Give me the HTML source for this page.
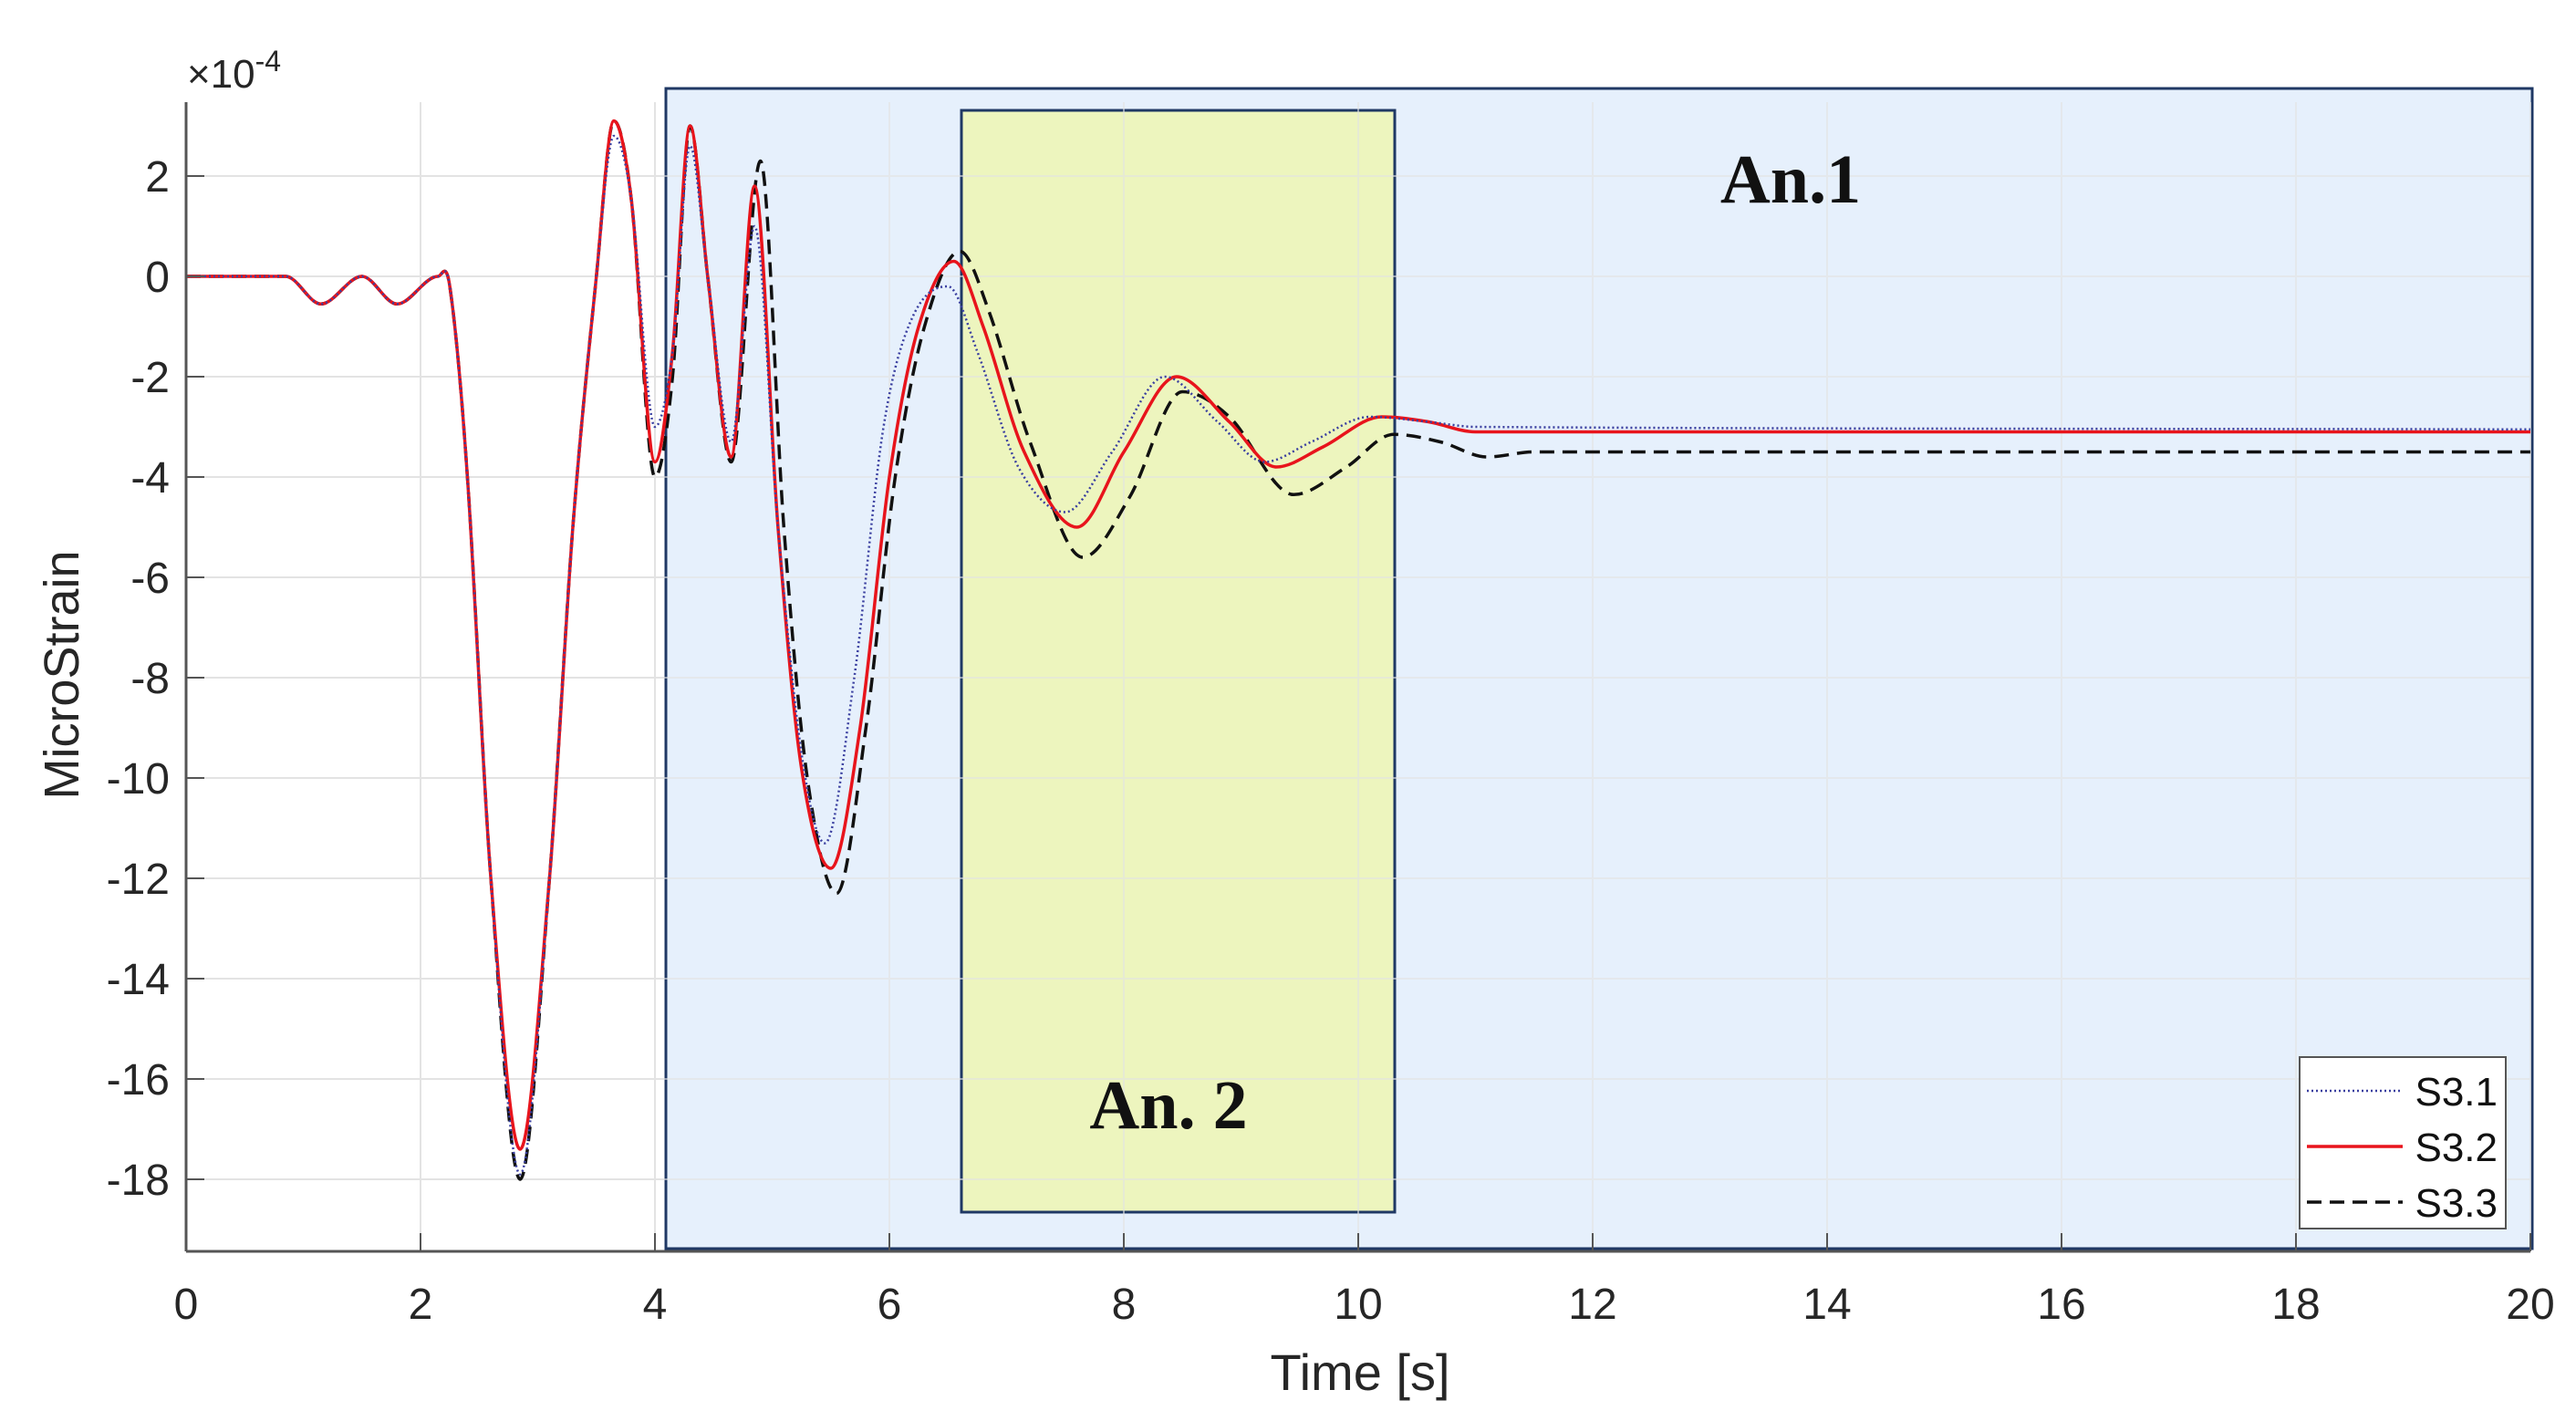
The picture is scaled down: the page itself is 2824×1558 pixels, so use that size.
<!DOCTYPE html>
<html><head><meta charset="utf-8"><style>
html,body{margin:0;padding:0;background:#fff;}
svg{display:block;}
</style></head><body>
<svg id="chart" width="2824" height="1558" viewBox="0 0 2824 1558" xmlns="http://www.w3.org/2000/svg">
<rect width="2824" height="1558" fill="#fff"/>
<g id="grid1"></g>
<rect id="an1box" fill="#e6f0fc" stroke="#1f3864" stroke-width="3"/>
<rect id="an2box" fill="#edf5be" stroke="#1f3864" stroke-width="3"/>
<g id="grid2" opacity="0.6"></g>
<g id="series"></g>
<g id="axes"></g>
<text x="1963" y="222" font-family="Liberation Serif, serif" font-weight="bold" font-size="76" text-anchor="middle" fill="#111">An.1</text>
<text x="1281" y="1237" font-family="Liberation Serif, serif" font-weight="bold" font-size="76" text-anchor="middle" fill="#111">An. 2</text>
<g id="legend"></g>
</svg>
<script>
const xTicks=[0,2,4,6,8,10,12,14,16,18,20];
const yTicks=[2,0,-2,-4,-6,-8,-10,-12,-14,-16,-18];
const seriesNames=["S3.1","S3.2","S3.3"];
const t1=[0,0.85,1.15,1.5,1.8,2.15,2.25,2.4,2.6,2.85,3.1,3.3,3.5,3.65,3.8,4.0,4.15,4.3,4.45,4.65,4.85,5.05,5.25,5.45,5.7,5.95,6.2,6.5,6.75,7.1,7.5,7.9,8.35,8.8,9.2,9.6,10.1,10.6,11,20];
const v1=[0,0,-0.55,0,-0.55,0,-0.2,-4,-12,-17.9,-12,-5,0,2.8,1.5,-3.0,-1.5,2.6,0,-3.3,1.0,-5,-9.5,-11.3,-8,-3,-0.8,-0.2,-1.5,-3.8,-4.7,-3.5,-2.0,-2.9,-3.7,-3.3,-2.8,-2.9,-3.0,-3.05];
const t2=[0,0.85,1.15,1.5,1.8,2.15,2.25,2.4,2.6,2.85,3.1,3.3,3.5,3.65,3.8,4.0,4.15,4.3,4.45,4.65,4.85,5.05,5.25,5.5,5.75,6.0,6.25,6.55,6.8,7.15,7.6,8.0,8.45,8.9,9.3,9.7,10.2,10.6,11,20];
const v2=[0,0,-0.55,0,-0.55,0,-0.2,-4,-12,-17.4,-12,-5,0,3.1,1.5,-3.7,-1.5,3.0,0,-3.6,1.8,-5,-9.8,-11.8,-9,-4,-1,0.3,-1.0,-3.5,-5.0,-3.5,-2.0,-2.9,-3.8,-3.4,-2.8,-2.9,-3.1,-3.1];
const t3=[0,0.85,1.15,1.5,1.8,2.15,2.25,2.4,2.6,2.85,3.1,3.3,3.5,3.65,3.8,4.0,4.15,4.3,4.45,4.65,4.9,5.1,5.3,5.55,5.8,6.05,6.3,6.6,6.85,7.2,7.65,8.05,8.5,8.9,9.45,9.9,10.3,10.7,11.1,11.5,20];
const v3=[0,0,-0.55,0,-0.55,0,-0.2,-4,-12,-18,-12,-5,0,3.1,1.5,-4.0,-2,3.0,0,-3.7,2.3,-5,-10,-12.3,-9,-4,-1,0.5,-0.7,-3.3,-5.6,-4.4,-2.3,-2.8,-4.35,-3.8,-3.15,-3.3,-3.6,-3.5,-3.5];
const X0=204,XS=128.5,Y0=303,YS=55;
const xs=v=>X0+v*XS, ys=v=>Y0-v*YS;
const NS="http://www.w3.org/2000/svg";
function mk(tag,attrs,parent){const e=document.createElementNS(NS,tag);for(const k in attrs)e.setAttribute(k,attrs[k]);parent.appendChild(e);return e;}
const plotTop=112,plotBot=1372,plotLeft=xs(0),plotRight=xs(20);
['grid1','grid2'].forEach(id=>{const g=document.getElementById(id);
 xTicks.forEach(v=>{if(v>0){const l=mk('line',{x1:xs(v),x2:xs(v),y1:plotTop,y2:plotBot,stroke:'#e3e3e3','stroke-width':2},g);
 
 }});
 yTicks.forEach(v=>{const l=mk('line',{x1:plotLeft,x2:plotRight,y1:ys(v),y2:ys(v),stroke:'#e3e3e3','stroke-width':2},g);
 
 });});
const b1=document.getElementById('an1box');b1.setAttribute('x',730);b1.setAttribute('y',97);b1.setAttribute('width',2046);b1.setAttribute('height',1272);
const b2=document.getElementById('an2box');b2.setAttribute('x',1054);b2.setAttribute('y',121);b2.setAttribute('width',475);b2.setAttribute('height',1208);
function smooth(T,V){const P=T.map((t,i)=>[xs(t),ys(V[i])]);const n=P.length;
 const m=P.map((p,i)=>{
  if(i===0)return (P[1][1]-p[1])/(P[1][0]-p[0]);
  if(i===n-1)return (p[1]-P[n-2][1])/(p[0]-P[n-2][0]);
  const a=P[i-1],b=P[i+1];
  if((p[1]-a[1])*(b[1]-p[1])<=0)return 0;
  return (b[1]-a[1])/(b[0]-a[0]);});
 let d='M'+P[0][0].toFixed(1)+','+P[0][1].toFixed(1);
 for(let i=0;i<n-1;i++){const p1=P[i],p2=P[i+1],dx=(p2[0]-p1[0])/3;
  d+=' C'+(p1[0]+dx).toFixed(1)+','+(p1[1]+m[i]*dx).toFixed(1)+' '+(p2[0]-dx).toFixed(1)+','+(p2[1]-m[i+1]*dx).toFixed(1)+' '+p2[0].toFixed(1)+','+p2[1].toFixed(1);}
 return d;}
const sg=document.getElementById('series');
const styles=[{stroke:'#3a3fa0','stroke-width':2.5,'stroke-dasharray':'2,3'},{stroke:'#e8141c','stroke-width':3.5},{stroke:'#111','stroke-width':3.5,'stroke-dasharray':'16,9'}];
const data=[[t1,v1],[t2,v2],[t3,v3]];
[2,1,0].forEach(i=>{const p=mk('path',Object.assign({d:smooth(data[i][0],data[i][1]),fill:'none'},styles[i]),sg);
 
 });
const ax=document.getElementById('axes');
const yAxisLine=mk('line',{x1:plotLeft,x2:plotLeft,y1:plotTop,y2:plotBot,stroke:'#555','stroke-width':3},ax);


const xAxisLine=mk('line',{x1:plotLeft,x2:plotRight,y1:plotBot,y2:plotBot,stroke:'#555','stroke-width':3},ax);


xTicks.forEach(v=>{mk('line',{x1:xs(v),x2:xs(v),y1:plotBot,y2:plotBot-20,stroke:'#555','stroke-width':2},ax);
 const t=mk('text',{x:xs(v),y:1446,'font-family':'Liberation Sans, sans-serif','font-size':48,'text-anchor':'middle',fill:'#262626'},ax);t.textContent=v;
 
 });
yTicks.forEach(v=>{mk('line',{x1:plotLeft,x2:plotLeft+20,y1:ys(v),y2:ys(v),stroke:'#555','stroke-width':2},ax);
 const t=mk('text',{x:186,y:ys(v)+17,'font-family':'Liberation Sans, sans-serif','font-size':48,'text-anchor':'end',fill:'#262626'},ax);t.textContent=v;
 
 });
let tt=mk('text',{x:1491,y:1524,'font-family':'Liberation Sans, sans-serif','font-size':56,'text-anchor':'middle',fill:'#262626'},ax);tt.textContent='Time [s]';


tt=mk('text',{x:0,y:0,transform:'translate(86,740) rotate(-90)','font-family':'Liberation Sans, sans-serif','font-size':54,'text-anchor':'middle',fill:'#262626'},ax);tt.textContent='MicroStrain';


tt=mk('text',{x:205,y:96,'font-family':'Liberation Sans, sans-serif','font-size':44,fill:'#262626'},ax);
tt.appendChild(document.createTextNode('×10'));
const sup=mk('tspan',{dy:-18,'font-size':32},tt);sup.textContent='-4';


const lg=document.getElementById('legend');
mk('rect',{x:2521,y:1159,width:226,height:188,fill:'#fff',stroke:'#555','stroke-width':2},lg);
[0,1,2].forEach(i=>{const y=1196+i*61;
 mk('line',Object.assign({x1:2529,x2:2634,y1:y,y2:y},styles[i]),lg);
 const tx=mk('text',{x:2738,y:y+16,'font-family':'Liberation Sans, sans-serif','font-size':44,'text-anchor':'end',fill:'#111'},lg);tx.textContent=seriesNames[i];
 
 });
</script>
</body></html>
